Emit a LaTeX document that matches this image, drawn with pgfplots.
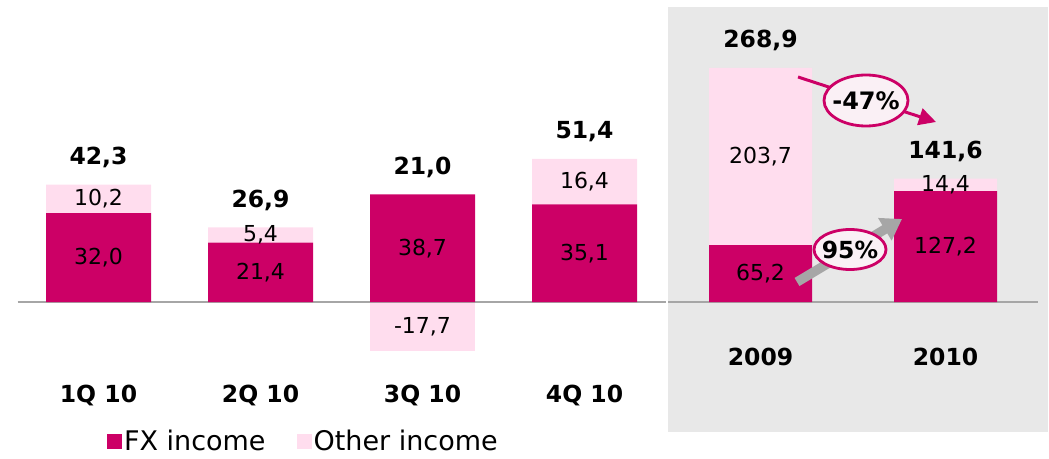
\documentclass[border=0pt]{standalone}
\usepackage{pgfplots}
\pgfplotsset{compat=1.18}
\usepackage{fontspec}
\setmainfont{DejaVu Sans}
\usetikzlibrary{arrows.meta}
\definecolor{fx}{HTML}{CC0066}
\definecolor{oth}{HTML}{FFDDEE}
\definecolor{panel}{HTML}{E8E8E8}
\definecolor{base}{HTML}{A6A6A6}
\definecolor{ellfill}{HTML}{FAF0F5}
\newcommand{\lbl}{\fontsize{22}{26}\selectfont}
\newcommand{\blbl}{\fontsize{23.5}{28}\selectfont\bfseries}
\newcommand{\clbl}{\fontsize{23.5}{28}\selectfont\bfseries}
\pgfplotsset{
  leftax/.style={scale only axis, width=648pt, height=250.2pt, xmin=-0.5, xmax=3.5, ymin=-25, ymax=65, hide axis, clip=false, at={(17.5pt,86.5pt)}, anchor=south west},
  rightax/.style={scale only axis, width=370pt, height=330.98pt, xmin=-0.5, xmax=1.5, ymin=-80, ymax=300, hide axis, clip=false, at={(668pt,86.32pt)}, anchor=south west},
}
\begin{document}
\begin{tikzpicture}
\path[use as bounding box] (0,0) rectangle (1049pt,458pt);
\fill[panel] (668pt,26pt) rectangle (1048pt,451pt);
% negative part of Other income (3Q 10)
\begin{axis}[leftax, ybar, bar width=105pt, bar shift=0pt]
\addplot[fill=oth, draw=none] coordinates {(2,-17.7)};
\end{axis}
\begin{axis}[leftax, ybar stacked, bar width=105pt,
  legend style={at={(0.138,-0.279)}, anchor=west, draw=none, fill=none, legend columns=2,
    font=\fontsize{27}{30}\selectfont, inner sep=0pt,
    /tikz/every even column/.append style={column sep=29pt}},
  legend image code/.code={\draw[#1, draw=none] (0pt,-7.5pt) rectangle (15pt,7pt);},
]
\addplot[fill=fx, draw=none] coordinates {(0,32.0) (1,21.4) (2,38.7) (3,35.1)};
\addlegendentry{FX income}
\addplot[fill=oth, draw=none] coordinates {(0,10.2) (1,5.4) (2,0) (3,16.4)};
\addlegendentry{Other income}
\draw[base, line width=1.2pt] (axis cs:-0.5,0) -- (axis cs:3.5,0);
\coordinate (a1) at (axis cs:0,16.0);
\coordinate (a2) at (axis cs:0,37.1);
\coordinate (b1) at (axis cs:1,10.7);
\coordinate (b2) at (axis cs:1,24.1);
\coordinate (c1) at (axis cs:2,19.35);
\coordinate (c2) at (axis cs:2,-8.85);
\coordinate (d1) at (axis cs:3,17.55);
\coordinate (d2) at (axis cs:3,43.3);
\coordinate (at) at (axis cs:0,42.2);
\coordinate (bt) at (axis cs:1,26.8);
\coordinate (ct) at (axis cs:2,38.7);
\coordinate (dt) at (axis cs:3,51.5);
\coordinate (ac) at (axis cs:0,-33.8);
\coordinate (bc) at (axis cs:1,-33.8);
\coordinate (cc) at (axis cs:2,-33.8);
\coordinate (dc) at (axis cs:3,-33.8);
\end{axis}
\begin{axis}[rightax, ybar stacked, bar width=103pt]
\addplot[fill=fx, draw=none] coordinates {(0,65.2) (1,127.2)};
\addplot[fill=oth, draw=none] coordinates {(0,203.7) (1,14.4)};
\draw[base, line width=1.2pt] (axis cs:-0.5,0) -- (axis cs:1.5,0);
\coordinate (e1) at (axis cs:0,32.6);
\coordinate (e2) at (axis cs:0,167.05);
\coordinate (f1) at (axis cs:1,63.6);
\coordinate (f2) at (axis cs:1,134.4);
\coordinate (et) at (axis cs:0,268.9);
\coordinate (ft) at (axis cs:1,141.6);
\coordinate (ec) at (axis cs:0,-63.1);
\coordinate (fc) at (axis cs:1,-63.1);
\end{axis}
% segment labels
\node[font=\lbl] at (a1) {32,0};
\node[font=\lbl] at (a2) {10,2};
\node[font=\lbl] at (b1) {21,4};
\node[font=\lbl] at (b2) {5,4};
\node[font=\lbl] at (c1) {38,7};
\node[font=\lbl] at (c2) {-17,7};
\node[font=\lbl] at (d1) {35,1};
\node[font=\lbl] at (d2) {16,4};
\node[font=\lbl] at (e1) {65,2};
\node[font=\lbl] at (e2) {203,7};
\node[font=\lbl] at (f1) {127,2};
\node[font=\lbl] at (f2) {14,4};
% totals
\foreach \p/\t in {at/{42,3}, bt/{26,9}, ct/{21,0}, dt/{51,4}, et/{268,9}, ft/{141,6}}
  \node[font=\blbl, anchor=base, yshift=20pt] at (\p) {\t};
% categories
\node[font=\clbl] at (ac) {1Q 10};
\node[font=\clbl] at (bc) {2Q 10};
\node[font=\clbl] at (cc) {3Q 10};
\node[font=\clbl] at (dc) {4Q 10};
\node[font=\clbl] at (ec) {2009};
\node[font=\clbl] at (fc) {2010};
% annotations
\draw[fx, line width=3pt, -{Triangle[length=17pt,width=17pt]}] (798pt,381pt) -- (936pt,336pt);
\draw[base, line width=9.5pt, -{Triangle[length=20pt,width=25pt]}] (797pt,176pt) -- (902pt,239pt);
\draw[fx, fill=ellfill, line width=2.8pt] (866pt,357.5pt) ellipse [x radius=42pt, y radius=25.5pt];
\node[font=\fontsize{24}{28}\selectfont\bfseries] at (866pt,357.5pt) {-47\%};
\draw[fx, fill=ellfill, line width=2.8pt] (850pt,208.5pt) ellipse [x radius=36pt, y radius=20pt];
\node[font=\fontsize{23.5}{28}\selectfont\bfseries] at (850pt,208.5pt) {95\%};
\end{tikzpicture}
\end{document}
